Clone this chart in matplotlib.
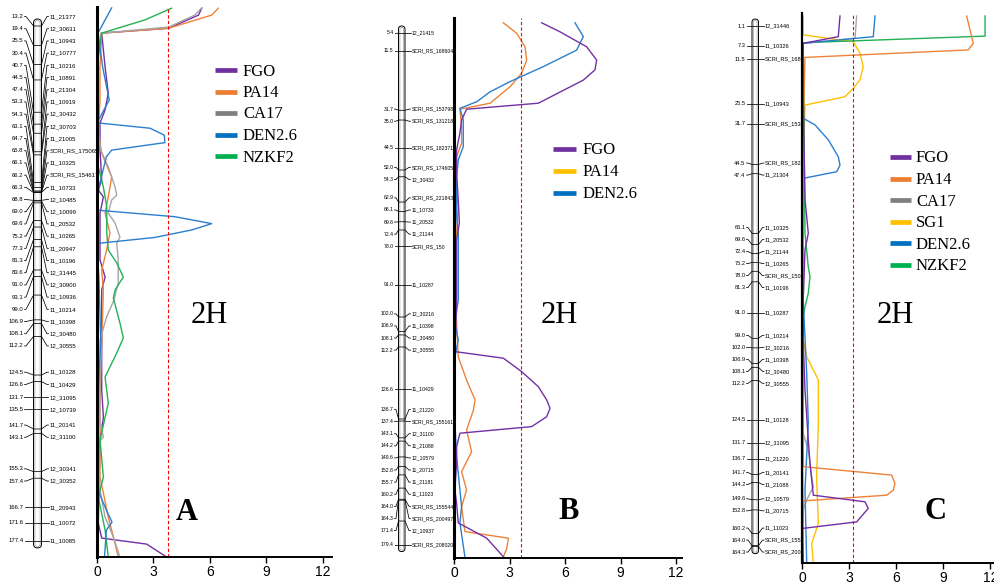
import matplotlib
matplotlib.use("Agg")
import matplotlib.pyplot as plt
from matplotlib.patches import FancyBboxPatch
from matplotlib import font_manager

# ---------------- DATA ----------------
# Panel A map (cM, marker)
A_map_cm = [13.2, 19.4, 25.5, 30.4, 40.7, 44.5, 47.4, 53.3, 54.3, 63.1, 64.7, 65.8, 66.1, 66.2, 66.3,
            68.8, 69.0, 69.6, 75.2, 77.3, 81.3, 83.6, 91.0, 93.1, 99.0, 106.9, 108.1, 112.2, 124.5,
            126.6, 131.7, 135.5, 141.7, 143.1, 155.3, 157.4, 166.7, 171.6, 177.4]
A_map_names = ["11_21377", "12_30631", "11_10943", "12_10777", "11_10216", "11_10891", "11_21304",
               "11_10919", "12_30432", "12_30703", "11_21005", "SCRI_RS_175065", "11_10325",
               "SCRI_RS_154617", "11_10733", "12_10485", "12_10099", "11_20532", "11_10265",
               "11_20947", "11_10196", "12_31445", "12_30900", "12_10936", "11_10214", "11_10398",
               "12_30480", "12_30555", "11_10128", "11_10429", "12_31095", "12_10739", "11_20141",
               "12_31100", "12_30341", "12_30352", "11_20943", "11_10072", "11_10085"]

B_map_cm = [5.4, 11.5, 31.7, 35.0, 44.5, 52.0, 54.3, 62.9, 66.1, 69.6, 72.4, 78.0, 91.0, 102.0, 106.9,
            108.1, 112.2, 126.6, 136.7, 137.4, 143.1, 144.2, 149.6, 152.8, 155.7, 160.2, 164.0, 164.3,
            171.4, 179.4]
B_map_names = ["12_21415", "SCRI_RS_168604", "SCRI_RS_153798", "SCRI_RS_131218", "SCRI_RS_182371",
               "SCRI_RS_174605", "12_30432", "SCRI_RS_221843", "11_10733", "11_20532", "11_21144",
               "SCRI_RS_150", "11_10287", "12_30216", "11_10398", "12_30480", "12_30555", "11_10429",
               "11_21220", "SCRI_RS_155161", "12_31100", "11_21088", "12_10579", "11_20715",
               "11_21181", "11_11023", "SCRI_RS_155544", "SCRI_RS_200497", "12_10937", "SCRI_RS_208020"]

C_map_cm = [1.1, 7.3, 11.5, 25.5, 31.7, 44.5, 47.4, 66.1, 69.6, 72.4, 75.2, 78.0, 81.3, 91.0, 99.0,
            102.0, 106.9, 108.1, 112.2, 124.5, 131.7, 136.7, 141.7, 144.2, 149.6, 152.8, 160.2, 164.0,
            164.3]
C_map_names = ["12_31446", "11_10326", "SCRI_RS_168604", "11_10943", "SCRI_RS_153798",
               "SCRI_RS_182371", "11_21304", "11_10325", "11_20532", "11_21144", "11_10265",
               "SCRI_RS_150", "11_10196", "11_10287", "11_10214", "12_30216", "11_10398", "12_30480",
               "12_30555", "11_10128", "12_31095", "11_21220", "11_20141", "11_21088", "12_10579",
               "11_20715", "11_11023", "SCRI_RS_155544", "SCRI_RS_200497"]

# LOD profiles (position along the scan, LOD)
A_FGO_pos = [0.4, 2.7, 7.1, 8.7, 20.0, 28.7, 34.3, 38.7, 47.7, 57.7, 61.0, 63.3, 68.7, 84.3, 90.0, 94.3,
             100.0, 127.7, 136.7, 144.3, 172.0, 177.0, 179.0, 183.3]
A_FGO_lod = [5.57, 5.4, 3.8, 0.25, 0.43, 0.6, 0.43, 0.16, 0.16, 0.25, 0.07, 0.34, 0.16, 0.16, 0.43, 0.25,
             0.25, 0.25, 0.34, 0.16, 0.07, 0.25, 2.64, 3.7]
A_PA14_pos = [0.4, 2.7, 7.1, 8.7, 20.0, 31.0, 42.0, 48.7, 56.7, 63.3, 68.7, 75.3, 81.0, 87.7, 94.3, 130.0,
              156.7, 162.0, 170.0, 178.7, 183.3]
A_PA14_lod = [6.45, 6.1, 3.8, 0.25, 0.16, 0.16, 0.07, 0.25, 0.78, 0.6, 0.43, 0.69, 0.51, 0.25, 0.34, 0.16,
              0.16, 0.34, 0.6, 0.96, 1.13]
A_CA17_pos = [0.3, 2.7, 6.7, 8.7, 20.0, 31.0, 38.7, 47.7, 53.3, 60.0, 62.7, 64.3, 68.7, 72.0, 76.7, 78.7,
              84.3, 92.0, 97.7, 103.3, 111.0, 138.7, 143.3, 145.3, 161.0, 170.0, 176.7, 183.3]
A_CA17_lod = [5.57, 5.2, 3.8, 0.2, 0.0, 0.1, 0.0, 0.2, 0.6, 0.96, 1.05, 0.78, 0.6, 0.96, 1.22, 1.05,
              1.13, 1.13, 0.9, 0.51, 0.16, 0.16, 0.34, 0.07, 0.16, 0.43, 0.87, 1.22]
A_DEN_pos = [0.3, 8.7, 20.0, 31.0, 38.6, 40.4, 42.7, 45.2, 47.7, 49.9, 60.0, 67.7, 69.9, 72.2, 74.3, 76.8,
             78.8, 90.0, 111.0, 131.0, 161.0, 167.7, 171.7, 174.3, 183.3]
A_DEN_lod = [0.78, 0.05, 0.3, 0.65, 0.0, 2.82, 3.58, 3.61, 0.78, 0.5, 0.1, 0.0, 4.15, 6.1, 5.04, 3.08,
             0.0, 0.1, 0.2, 0.05, 0.05, 0.5, 0.8, 0.5, 0.4]
A_NZKF2_pos = [0.4, 4.3, 8.7, 20.0, 31.0, 42.0, 53.3, 60.0, 66.7, 75.3, 81.0, 85.3, 90.0, 94.3, 97.0,
               105.3, 110.3, 115.3, 123.3, 132.0, 144.3, 156.7, 163.3, 174.3, 183.3]
A_NZKF2_lod = [3.97, 2.55, 0.25, 0.0, 0.05, 0.0, 0.07, 0.34, 0.52, 0.52, 0.6, 1.05, 1.4, 0.96, 0.87,
               1.22, 1.4, 1.05, 0.43, 0.6, 0.16, 0.34, 0.07, 0.43, 0.6]

B_FGO_pos = [1.6, 4.6, 9.6, 14.0, 17.3, 20.7, 28.4, 30.4, 34.0, 38.3, 44.0, 51.7, 60.7, 68.3, 74.0, 94.0,
             111.2, 113.4, 117.9, 122.9, 127.3, 130.1, 132.9, 136.2, 138.4, 142.9, 148.3, 157.3, 161.7,
             168.3, 173.4, 179.6]
B_FGO_lod = [4.74, 5.73, 7.17, 7.71, 7.62, 6.99, 4.56, 0.68, 0.41, 0.32, 0.14, 0.14, 0.23, 0.29, 0.14,
             0.14, 0.05, 2.67, 3.66, 4.56, 5.01, 5.19, 5.01, 4.2, 0.32, 0.14, 0.14, 0.05, 0.14, 0.23,
             1.77, 2.67]
B_PA14_pos = [1.6, 5.1, 9.6, 14.0, 18.4, 22.9, 28.4, 30.4, 36.2, 41.8, 46.2, 55.1, 62.9, 71.8, 94.0,
              101.8, 112.9, 120.7, 127.3, 130.7, 137.3, 144.6, 151.2, 157.3, 162.9, 171.2, 173.4, 176.8,
              179.6]
B_PA14_lod = [2.67, 3.39, 3.84, 3.93, 3.66, 3.03, 1.95, 0.32, 0.41, 0.41, 0.14, 0.05, 0.23, 0.14, 0.05,
              0.14, 0.23, 0.68, 1.14, 1.05, 0.68, 0.95, 0.41, 0.68, 0.41, 0.59, 2.94, 2.85, 2.67]
B_DEN_pos = [1.6, 6.2, 10.7, 16.2, 21.2, 24.6, 27.9, 30.1, 34.0, 42.9, 47.3, 52.9, 66.2, 71.8, 94.0,
             101.8, 107.3, 112.9, 135.0, 146.2, 162.9, 168.3, 179.6]
B_DEN_lod = [6.54, 6.99, 6.63, 4.83, 3.03, 1.95, 1.23, 0.32, 0.5, 0.5, 0.23, 0.14, 0.14, 0.23, 0.23,
             0.05, 0.23, 0.05, 0.05, 0.14, 0.41, 0.32, 0.59]

C_FGO_pos = [1.0, 7.9, 10.1, 29.0, 62.3, 67.9, 73.4, 79.0, 95.7, 109.0, 125.7, 142.3, 150.1, 160.7,
             162.9, 165.1, 169.6, 171.8, 183.4]
C_FGO_lod = [2.42, 2.31, 0.08, 0.08, 0.19, 0.3, 0.4, 0.19, 0.08, 0.08, 0.19, 0.4, 0.51, 0.72, 4.01,
             4.22, 3.48, 0.0, 0.08]
C_PA14_pos = [1.0, 10.1, 12.3, 14.8, 40.0, 95.7, 125.7, 151.2, 154.0, 156.8, 159.0, 160.7, 162.6, 183.4]
C_PA14_lod = [10.49, 10.91, 10.59, 0.19, 0.08, 0.08, 0.08, 0.08, 5.71, 5.92, 5.82, 5.39, 0.08, 0.08]
C_CA17_pos = [1.0, 8.4, 10.1, 95.7, 140.1, 145.7, 154.6, 157.9, 162.3, 165.7, 183.4]
C_CA17_lod = [3.48, 3.38, 0.08, 0.08, 0.08, 0.4, 0.62, 0.72, 0.3, 0.08, 0.08]
C_SG1_pos = [1.0, 7.3, 9.6, 13.4, 17.9, 22.3, 25.1, 27.9, 30.7, 51.2, 95.7, 109.0, 114.6, 122.3, 136.8,
             154.6, 170.1, 176.8, 183.4]
C_SG1_lod = [0.08, 0.08, 3.27, 3.69, 3.9, 3.69, 3.27, 2.74, 0.19, 0.08, 0.08, 0.08, 0.3, 1.04, 1.04,
             0.93, 1.04, 0.62, 0.72]
C_DEN_pos = [1.0, 7.9, 10.1, 35.1, 37.3, 42.3, 47.9, 50.7, 52.9, 55.1, 95.7, 120.1, 136.8, 159.0, 183.4]
C_DEN_lod = [4.65, 4.54, 0.08, 0.08, 0.83, 1.68, 2.31, 2.42, 2.21, 0.08, 0.08, 0.3, 0.4, 0.19, 0.3]
C_NZKF2_pos = [1.0, 7.7, 9.9, 73.4, 84.6, 87.9, 93.4, 97.9, 103.4, 125.7, 183.4]
C_NZKF2_lod = [11.66, 11.66, 0.08, 0.19, 0.4, 0.51, 0.4, 0.19, 0.0, 0.0, 0.08]

thresholds = {"A": 3.8, "B": 3.6, "C": 3.27}
x_ticks = [0, 3, 6, 9, 12]
A_legend = ["FGO", "PA14", "CA17", "DEN2.6", "NZKF2"]
B_legend = ["FGO", "PA14", "DEN2.6"]
C_legend = ["FGO", "PA14", "CA17", "SG1", "DEN2.6", "NZKF2"]
chrom_label = "2H"

# ---------------- STYLE ----------------
PURPLE, ORANGE, GRAY, YELLOW, BLUE, GREEN = "#7330A6", "#EE8239", "#A6A6A6", "#FFC000", "#2A7FCF", "#22B155"
LEG = {"FGO": "#7030A0", "PA14": "#ED7D31", "CA17": "#7F7F7F", "SG1": "#FFC000",
       "DEN2.6": "#0070C0", "NZKF2": "#00B050"}

avail = {f.name for f in font_manager.fontManager.ttflist}
NARROW = "Liberation Sans Narrow" if "Liberation Sans Narrow" in avail else "Liberation Sans"
MAPFS = 5.0 if NARROW == "Liberation Sans Narrow" else 4.3
SERIF = "Liberation Serif"

W, H = 994, 584
fig = plt.figure(figsize=(W / 100, H / 100), dpi=100)
base = fig.add_axes([0, 0, 1, 1], zorder=0)
base.set_xlim(0, W); base.set_ylim(H, 0); base.axis("off")
over = fig.add_axes([0, 0, 1, 1], zorder=10)
over.set_xlim(0, W); over.set_ylim(H, 0); over.axis("off")


def spread(t, g):
    clusters = [[i] for i in range(len(t))]

    def place(c):
        centre = (t[c[0]] + t[c[-1]]) / 2.0
        start = centre - (len(c) - 1) * g / 2.0
        return [start + k * g for k in range(len(c))]

    changed = True
    while changed:
        changed = False
        for k in range(len(clusters) - 1):
            a, b = place(clusters[k]), place(clusters[k + 1])
            if b[0] - a[-1] < g - 1e-9:
                clusters[k] = clusters[k] + clusters[k + 1]
                del clusters[k + 1]
                changed = True
                break
    out = []
    for c in clusters:
        out += place(c)
    return out


def draw_map(cms, names, y0, c0, scale, gap, bl, br, xl, xr, fs):
    ty = [y0 + (c - c0) * scale for c in cms]
    ly = spread(ty, gap)
    w = br - bl
    topy, boty = ty[0] - 7, ty[-1] + 7
    base.add_patch(FancyBboxPatch((bl, topy), w, boty - topy,
                                  boxstyle=f"round,pad=0,rounding_size={w / 2}",
                                  fc="white", ec="black", lw=0.7))
    base.add_patch(FancyBboxPatch((bl + 1.4, topy + 1.4), w - 2.8, boty - topy - 2.8,
                                  boxstyle=f"round,pad=0,rounding_size={(w - 2.8) / 2}",
                                  fc="none", ec="#9a9a9a", lw=0.5))
    for c, n, t, l in zip(cms, names, ty, ly):
        base.plot([xl + 1, xl + 2.5, bl, br, xr - 2.5, xr - 1], [l, l, t, t, l, l],
                  color="black", lw=0.55)
        base.text(xl, l, f"{c:.1f}", ha="right", va="center", fontsize=fs, family=NARROW)
        base.text(xr, l, n, ha="left", va="center", fontsize=fs, family=NARROW)


def draw_panel(l, r, t, b, xmax, ymax, series, thr, spine_lw):
    ax = fig.add_axes([l / W, 1 - b / H, (r - l) / W, (b - t) / H], zorder=5)
    ax.set_facecolor("white")
    for pos, lod, col in series:
        ax.plot(lod, pos, color=col, lw=1.0)
    ax.axvline(thr, color="red", lw=0.8, ls=(0, (3, 2)))
    ax.set_xlim(0, xmax)
    ax.set_ylim(ymax, 0)
    for s in ("top", "right"):
        ax.spines[s].set_visible(False)
    ax.spines["left"].set_linewidth(spine_lw)
    ax.spines["bottom"].set_linewidth(1.4)
    ax.set_yticks([])
    ax.set_xticks(x_ticks)
    ax.set_xticklabels([str(v) for v in x_ticks], family="Liberation Sans", fontsize=10)
    ax.tick_params(axis="x", length=4, width=1, pad=2)
    return ax


def draw_legend(x0, x1, xt, y0, step, labels, colors):
    for i, (lab, col) in enumerate(zip(labels, colors)):
        y = y0 + i * step
        over.plot([x0, x1], [y, y], color=col, lw=3.4, solid_capstyle="butt")
        over.text(xt, y + 5.5, lab, ha="left", va="baseline", fontsize=12, family=SERIF)


# maps
draw_map(A_map_cm, A_map_names, 26, 13.2, 3.136, 12.2, 33.5, 41.5, 23.5, 49.5, MAPFS)
draw_map(B_map_cm, B_map_names, 33, 5.4, 2.94, 12.1, 398.5, 405.0, 393.5, 411.5, MAPFS * 0.86)
draw_map(C_map_cm, C_map_names, 26, 1.1, 3.19, 12.0, 752.0, 758.5, 745.5, 765.0, MAPFS * 0.94)

# LOD panels
draw_panel(97, 97 + 12.5 * 18.8, 7, 557, 12.5, 183.3,
           [(A_FGO_pos, A_FGO_lod, PURPLE), (A_PA14_pos, A_PA14_lod, ORANGE),
            (A_CA17_pos, A_CA17_lod, GRAY), (A_NZKF2_pos, A_NZKF2_lod, GREEN),
            (A_DEN_pos, A_DEN_lod, BLUE)], thresholds["A"], 2.2)
draw_panel(454, 454 + 12.3 * 18.5, 18, 558, 12.3, 180.0,
           [(B_PA14_pos, B_PA14_lod, ORANGE), (B_DEN_pos, B_DEN_lod, BLUE),
            (B_FGO_pos, B_FGO_lod, PURPLE)], thresholds["B"], 2.2)
draw_panel(802, 802 + 12.2 * 15.7, 13, 563, 12.2, 183.3,
           [(C_CA17_pos, C_CA17_lod, GRAY), (C_SG1_pos, C_SG1_lod, YELLOW),
            (C_NZKF2_pos, C_NZKF2_lod, GREEN), (C_DEN_pos, C_DEN_lod, BLUE),
            (C_PA14_pos, C_PA14_lod, ORANGE), (C_FGO_pos, C_FGO_lod, PURPLE)], thresholds["C"], 1.6)

# legends (panel B legend shows PA14 in yellow as in the original)
draw_legend(215, 237, 243, 70, 21.5, A_legend, [LEG[k] for k in A_legend])
draw_legend(553, 576, 583, 149, 22, B_legend, [LEG["FGO"], LEG["SG1"], LEG["DEN2.6"]])
draw_legend(890, 911, 916, 157, 21.6, C_legend, [LEG[k] for k in C_legend])

for (cx, cy), (px, py), letter in [((209, 323), (187, 520), "A"), ((559, 323), (569, 519), "B"),
                                   ((895, 323), (935, 519), "C")]:
    over.text(cx, cy, chrom_label, ha="center", va="baseline", fontsize=22, family=SERIF)
    over.text(px, py, letter, ha="center", va="baseline", fontsize=22, family=SERIF, fontweight="bold")

fig.savefig("out.png", dpi=100)
